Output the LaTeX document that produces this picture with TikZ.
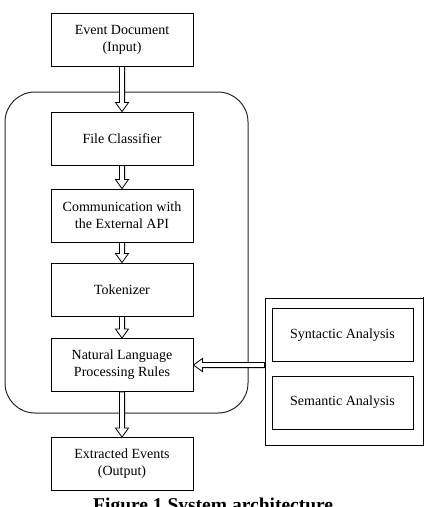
\documentclass[tikz,border=0pt]{standalone}
\usepackage{fontspec}
\setmainfont{Liberation Serif}
\usetikzlibrary{calc}
\begin{document}
\begin{tikzpicture}[x=1pt,y=-1pt,
  box/.style={draw=black, line width=0.9pt, minimum width=142pt, minimum height=53pt,
    align=center, inner sep=0pt, font=\fontsize{14}{17}\selectfont},
  sidebox/.style={box, minimum width=141pt},
  frame/.style={draw=black!85, line width=1pt, rounded corners=30pt},
  % block arrow: shaft and open head outlined, filled white
  hollow/.style={draw=black, line width=0.8pt, fill=white, to path={
    let \p1=(\tikztostart), \p2=(\tikztotarget), \p3=($(\p2)!9pt!(\p1)$) in
    ($(\p1)!2.6pt!90:(\p2)$) -- ($(\p3)!2.6pt!90:(\p2)$) -- ($(\p3)!6.5pt!90:(\p2)$)
    -- (\p2) -- ($(\p3)!6.5pt!-90:(\p2)$) -- ($(\p3)!2.6pt!-90:(\p2)$)
    -- ($(\p1)!2.6pt!-90:(\p2)$) -- cycle}},
  caption/.style={anchor=base west, inner sep=0pt, font=\bfseries\fontsize{19.5}{22}\selectfont}
]
\useasboundingbox (0,0) rectangle (427,507);
\clip (0,0) rectangle (427,507);

% processing frame
\node[frame, minimum width=243pt, minimum height=321pt] (fr) at (126.5,252.5) {};

% main pipeline
\node[box] (ev)  at (122,39.5)  {Event Document\\(Input)};
\node[box] (fc)  at (122,138.5) {File Classifier};
\node[box] (api) at (122,215.5) {Communication with\\the External API};
\node[box] (tok) at (122,289.5) {Tokenizer};
\node[box] (nlp) at (122,365)   {Natural Language\\Processing Rules};
\node[box] (out) at (122,464)   {Extracted Events\\(Output)};

% analysis group
\node[draw=black, line width=0.9pt, minimum width=158pt, minimum height=147pt, inner sep=0pt] (side) at (344,371.5) {};
\draw[line width=1.8pt] ([yshift=0.5pt]side.north east) -- (side.south east) -- (side.south west);
\node[sidebox] (syn) at (342.5,335)   {Syntactic Analysis};
\node[sidebox] (sem) at (342.5,402.5) {Semantic Analysis};

% flow arrows
\draw[hollow] (ev.south)  to (fc.north);
\draw[hollow] (fc.south)  to (api.north);
\draw[hollow] (api.south) to (tok.north);
\draw[hollow] (tok.south) to (nlp.north);
\draw[hollow] (nlp.south) to (out.north);
\draw[hollow] (side.west |- nlp.east) to (nlp.east);

\node[caption] (cap) at (93,511) {Figure 1 System architecture};
\end{tikzpicture}
\end{document}
